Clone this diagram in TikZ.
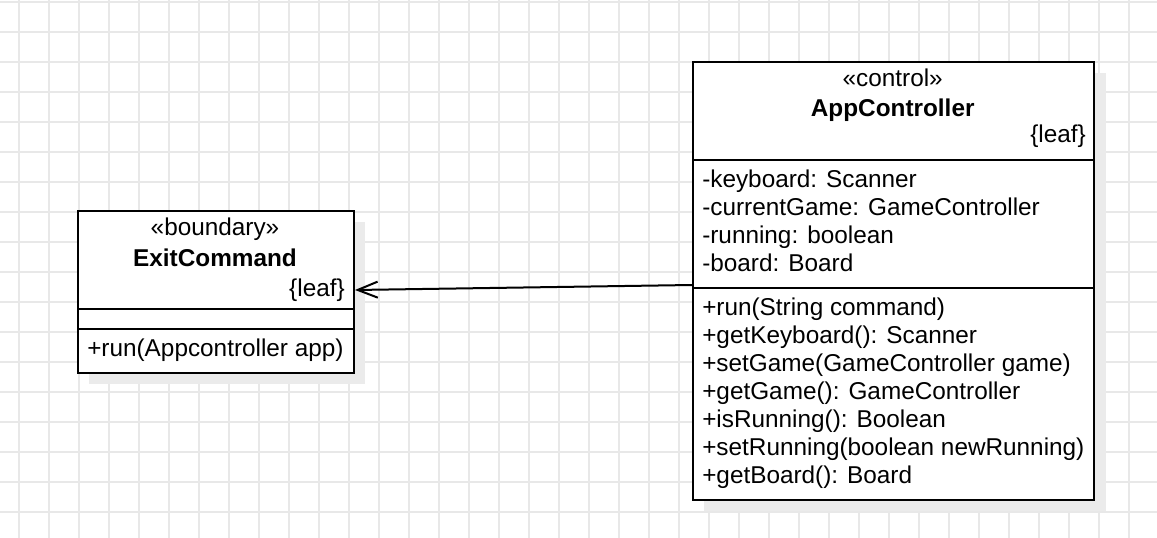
\documentclass[tikz,border=0pt]{standalone}
\usepackage{fontspec}
\setmainfont{Liberation Sans}
\usetikzlibrary{arrows.meta}
\begin{document}
\begin{tikzpicture}[x=0.75pt,y=-0.75pt,
  gridline/.style={draw=black!9, line width=0.9pt},
  umlbox/.style={draw=black, line width=1.5pt, fill=white, rectangle, inner sep=0pt, anchor=north west},
  shadowbox/.style={fill=black!8, draw=none, rectangle, inner sep=0pt, anchor=north west},
  divider/.style={draw=black, line width=1.5pt},
  txt/.style={inner sep=0pt, font=\fontsize{18.25}{21.9}\selectfont},
  boldtxt/.style={txt, font=\fontsize{18.25}{21.9}\selectfont\bfseries},
  conn/.style={draw=black, line width=1.5pt, -{Straight Barb[length=15pt,width=12pt,line width=1.5pt]}}
]
\useasboundingbox (0,0) rectangle (1157,538);
\fill[white] (0,0) rectangle (1157,538);
\foreach \i in {0,...,37} \draw[gridline] (19+30*\i,0) -- (19+30*\i,538);
\foreach \j in {0,...,17} \draw[gridline] (0,2+30*\j) -- (1157,2+30*\j);

% shadows
\node[shadowbox, minimum width=207pt, minimum height=121.5pt] (ecshadow) at (89,222) {};
\node[shadowbox, minimum width=301.1pt, minimum height=328.5pt] (acshadow) at (704,73) {};

% ExitCommand
\node[umlbox, minimum width=207pt, minimum height=121.5pt] (ec) at (77,210) {};
\draw[divider] ([yshift=-74.6pt]ec.north west) -- ([yshift=-74.6pt]ec.north east);
\draw[divider] ([yshift=-88.9pt]ec.north west) -- ([yshift=-88.9pt]ec.north east);
\node[txt, anchor=base] (ecst) at (215,236) {«boundary»};
\node[boldtxt, anchor=base] (ecname) at (215,266.5) {ExitCommand};
\node[txt, anchor=base east] (ecleaf) at (345,296.5) {\{leaf\}};
\node[txt, anchor=base west] (ecm1) at (87,356.5) {+run(Appcontroller app)};

% AppController
\node[umlbox, minimum width=301.1pt, minimum height=328.5pt] (ac) at (692,61) {};
\draw[divider] ([yshift=-73.9pt]ac.north west) -- ([yshift=-73.9pt]ac.north east);
\draw[divider] ([yshift=-169.9pt]ac.north west) -- ([yshift=-169.9pt]ac.north east);
\node[txt, anchor=base] (acst) at (892.7,86.7) {«control»};
\node[boldtxt, anchor=base] (acname) at (892.7,116.5) {AppController};
\node[txt, anchor=base east] (acleaf) at (1086,143) {\{leaf\}};
\node[txt, anchor=base west] (aca1) at (702,187.5) {-keyboard: Scanner};
\node[txt, anchor=base west] (aca2) at (702,215.5) {-currentGame: GameController};
\node[txt, anchor=base west] (aca3) at (702,243.5) {-running: boolean};
\node[txt, anchor=base west] (aca4) at (702,271.5) {-board: Board};
\node[txt, anchor=base west] (acm1) at (702,316) {+run(String command)};
\node[txt, anchor=base west] (acm2) at (702,344) {+getKeyboard(): Scanner};
\node[txt, anchor=base west] (acm3) at (702,371.8) {+setGame(GameController game)};
\node[txt, anchor=base west] (acm4) at (702,399.6) {+getGame(): GameController};
\node[txt, anchor=base west] (acm5) at (702,427.6) {+isRunning(): Boolean};
\node[txt, anchor=base west] (acm6) at (702,455.6) {+setRunning(boolean newRunning)};
\node[txt, anchor=base west] (acm7) at (702,483.4) {+getBoard(): Board};

% connector
\draw[conn] ([yshift=-3pt]ac.west) -- ([yshift=1.5pt]ec.east);
\end{tikzpicture}
\end{document}
